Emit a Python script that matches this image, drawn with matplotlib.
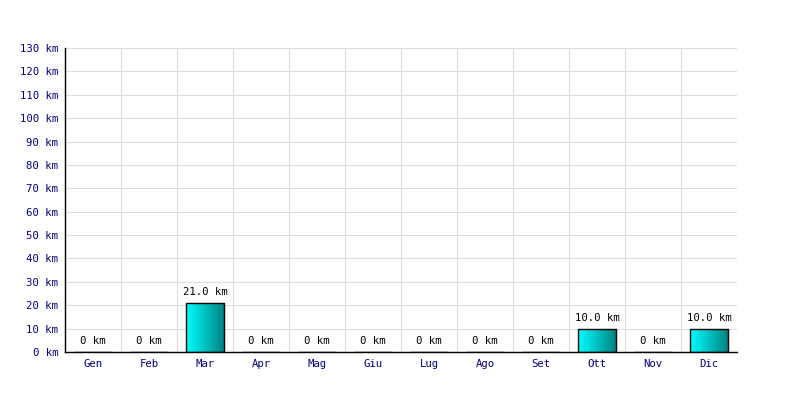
import numpy as np
import matplotlib.pyplot as plt
from matplotlib.colors import LinearSegmentedColormap

months = ['Gen', 'Feb', 'Mar', 'Apr', 'Mag', 'Giu', 'Lug', 'Ago', 'Set', 'Ott', 'Nov', 'Dic']
km = [0, 0, 21.0, 0, 0, 0, 0, 0, 0, 10.0, 0, 10.0]
yticks = list(range(0, 140, 10))

plt.rcParams['font.family'] = 'DejaVu Sans Mono'

fig = plt.figure(figsize=(8, 4), dpi=100)
ax = fig.add_axes([0.08125, 0.12, 0.84, 0.76])

x = np.arange(len(months))
bars = ax.bar(x, km, width=0.68, color='none', edgecolor='black', linewidth=1, zorder=3)

cmap = LinearSegmentedColormap.from_list('cyan', ['#00ffff', '#008080'])
grad = np.linspace(0, 1, 256).reshape(1, -1)
for b, v in zip(bars, km):
    if v > 0:
        x0, y0 = b.get_x(), b.get_y()
        im = ax.imshow(grad, cmap=cmap, aspect='auto', zorder=2,
                       extent=[x0, x0 + b.get_width(), y0, y0 + b.get_height()])
        im.set_clip_path(b)
    label = '0 km' if v == 0 else f'{v:.1f} km'
    ax.annotate(label, (b.get_x() + b.get_width() / 2, v), xytext=(0, 4),
                textcoords='offset points', ha='center', va='bottom',
                fontsize=7.7, color='black')

ax.set_xlim(-0.5, len(months) - 0.5)
ax.set_ylim(0, 130)
ax.set_yticks(yticks)
ax.set_yticklabels([f'{t} km' for t in yticks])
ax.set_xticks(x)
ax.set_xticklabels(months)
ax.set_xticks(np.arange(-0.5, len(months), 1), minor=True)
ax.tick_params(axis='both', which='both', length=0, labelsize=7.7, labelcolor='#000080')
ax.tick_params(axis='y', pad=5)
ax.tick_params(axis='x', pad=5)

ax.grid(True, axis='y', color='#dcdcdc', linewidth=0.8, zorder=0)
ax.grid(True, axis='x', which='minor', color='#dcdcdc', linewidth=0.8, zorder=0)
ax.set_axisbelow(True)
for s in ['top', 'right']:
    ax.spines[s].set_visible(False)
for s in ['left', 'bottom']:
    ax.spines[s].set_color('black')
    ax.spines[s].set_linewidth(1)
    ax.spines[s].set_zorder(4)

fig.savefig('out.png', dpi=100)
